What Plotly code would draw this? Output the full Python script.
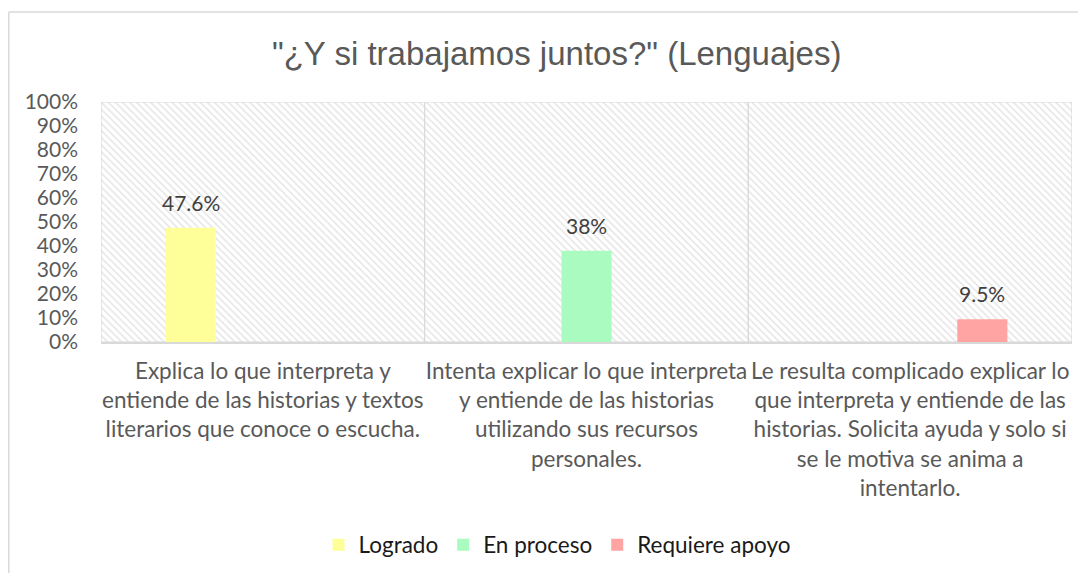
import plotly.graph_objects as go

categories = [
    "Explica lo que interpreta y entiende de las historias y textos literarios que conoce o escucha.",
    "Intenta explicar lo que interpreta y entiende de las historias utilizando sus recursos personales.",
    "Le resulta complicado explicar lo que interpreta y entiende de las historias. Solicita ayuda y solo si se le motiva se anima a intentarlo.",
]
tick_labels = [
    "Explica lo que interpreta y<br>entiende de las historias y textos<br>literarios que conoce o escucha.",
    "Intenta explicar lo que interpreta<br>y entiende de las historias<br>utilizando sus recursos<br>personales.",
    "Le resulta complicado explicar lo<br>que interpreta y entiende de las<br>historias. Solicita ayuda y solo si<br>se le motiva se anima a<br>intentarlo.",
]
series_names = ["Logrado", "En proceso", "Requiere apoyo"]
logrado = [0.476, 0, 0]
en_proceso = [0, 0.38, 0]
requiere_apoyo = [0, 0, 0.095]
label_text = ["47.6%", "38%", "9.5%"]
colors = ["#FFFF99", "#A9FBBF", "#FFA3A3"]

series_values = [logrado, en_proceso, requiere_apoyo]

# figure is placed at (8, 8) in the page; plot area spans x 101..1072, y 102..342
W, H = 1078, 565
ML, MR, MT, MB = 93, 14, 94, 231
PW = W - ML - MR
PH = H - MT - MB
OFF = 8


def px_x(x):
    return (x - OFF - ML) / PW


def px_y(y):
    return (H - MB - (y - OFF)) / PH


fig = go.Figure()

# hatched plot-area background (one cell per category)
fig.add_trace(go.Bar(
    x=categories, y=[1, 1, 1], width=1, xaxis="x", yaxis="y",
    marker=dict(color="white", line=dict(color="#D9D9D9", width=1.2),
                pattern=dict(shape="\\", fgcolor="#CCCCCC", bgcolor="white", size=5, solidity=0.3)),
    showlegend=False, hoverinfo="skip",
))

for name, vals, col in zip(series_names, series_values, colors):
    fig.add_trace(go.Bar(
        x=categories, y=vals, name=name, xaxis="x2", yaxis="y",
        marker=dict(color=col, line=dict(width=0)),
    ))

font_main = "Lato, 'Open Sans', sans-serif"

annotations = []
n = len(series_names)
slot = (1 - 0.331) / n
for j, vals in enumerate(series_values):
    for i, v in enumerate(vals):
        if v > 0:
            annotations.append(dict(
                x=i + (j - (n - 1) / 2) * slot, y=v, xref="x2", yref="y",
                text=label_text[i], showarrow=False, yanchor="bottom", yshift=11,
                font=dict(family=font_main, size=21, color="#404040"),
            ))

annotations.append(dict(
    text="\"¿Y si trabajamos juntos?\" (Lenguajes)", xref="paper", yref="paper",
    x=px_x(556), y=px_y(53), xanchor="center", yanchor="middle", showarrow=False,
    font=dict(family="'Liberation Sans Narrow', 'Arial Narrow', 'Liberation Sans', sans-serif",
              size=33, color="#595959"),
))

shapes = [
    dict(type="line", xref="paper", yref="paper", x0=px_x(8.8), x1=px_x(8.8),
         y0=-1.5, y1=px_y(12), line=dict(color="#D9D9D9", width=1.5)),
    dict(type="line", xref="paper", yref="paper", x0=px_x(8.8), x1=1.2,
         y0=px_y(12), y1=px_y(12), line=dict(color="#D9D9D9", width=1.5)),
]

fig.update_layout(
    width=W, height=H,
    margin=dict(l=ML, r=MR, t=MT, b=MB, autoexpand=False),
    paper_bgcolor="white", plot_bgcolor="white",
    barmode="group", bargap=0.331, bargroupgap=0.306,
    xaxis=dict(type="category", range=[-0.5, 2.5], tickvals=categories, ticktext=tick_labels,
               showgrid=False, showline=True, linecolor="#D9D9D9", linewidth=1.5, ticks="",
               ticklabelstandoff=8,
               tickfont=dict(family=font_main, size=22.5, color="#595959"), fixedrange=True),
    xaxis2=dict(type="category", range=[-0.5, 2.5], overlaying="x", visible=False,
                fixedrange=True),
    yaxis=dict(range=[0, 1], dtick=0.1, tickformat=".0%", showgrid=False, zeroline=False,
               ticks="", ticklabelstandoff=22,
               tickfont=dict(family=font_main, size=21, color="#595959")),
    legend=dict(orientation="h", x=px_x(557), xanchor="center", y=px_y(545), yanchor="middle",
                font=dict(family=font_main, size=22.5, color="#1A1A1A"), traceorder="normal",
                itemwidth=30),
    annotations=annotations, shapes=shapes, showlegend=True,
)

fig.write_html("out.html")
